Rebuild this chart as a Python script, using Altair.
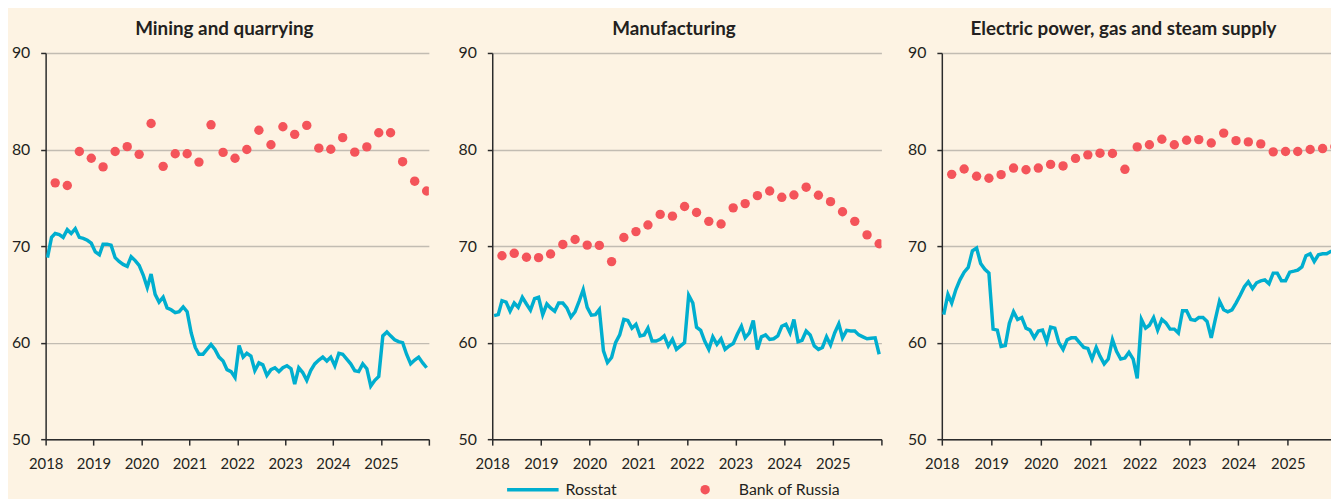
import altair as alt
import pandas as pd

BG = "#FDF3E3"
CYAN = "#00AECF"
RED = "#F4545A"
FONT = "Lato"

titles = ["Mining and quarrying", "Manufacturing", "Electric power, gas and steam supply"]

mining_rosstat = [
    68.8, 70.9, 71.3, 71.2, 70.9, 71.7, 71.3, 71.8, 70.9, 70.8, 70.6, 70.3,
    69.4, 69.1, 70.2, 70.2, 70.1, 68.8, 68.4, 68.1, 67.9, 68.9, 68.5, 68.0,
    67.0, 65.7, 67.1, 65.0, 64.2, 64.7, 63.6, 63.4, 63.1, 63.2, 63.7, 63.2,
    61.0, 59.5, 58.8, 58.8, 59.3, 59.8, 59.3, 58.5, 58.1, 57.2, 57.0, 56.4,
    59.7, 58.5, 58.9, 58.6, 57.1, 57.9, 57.7, 56.6, 57.2, 57.4, 57.0, 57.4,
    57.6, 57.3, 55.7, 57.4, 56.9, 56.1, 57.1, 57.8, 58.2, 58.5, 58.1, 58.5,
    57.6, 58.9, 58.8, 58.3, 57.8, 57.1, 57.0, 57.8, 57.3, 55.5, 56.1, 56.5,
    60.7, 61.1, 60.7, 60.3, 60.1, 60.0, 58.8, 57.8, 58.2, 58.5, 57.9, 57.4,
]
manuf_rosstat = [
    62.8, 62.9, 64.35, 64.2, 63.25, 64.1, 63.66, 64.7, 64.0, 63.36, 64.55, 64.7,
    62.9, 64.0, 63.6, 63.25, 64.1, 64.1, 63.6, 62.64, 63.2, 64.28, 65.48, 63.66,
    62.84, 62.9, 63.42, 59.14, 57.94, 58.46, 60.0, 60.8, 62.4, 62.3, 61.5, 61.9,
    60.7, 60.8, 61.5, 60.17, 60.17, 60.34, 60.7, 59.66, 60.34, 59.3, 59.66, 60.0,
    64.9, 64.1, 61.6, 61.27, 60.17, 59.3, 60.6, 59.83, 60.4, 59.3, 59.66, 59.9,
    60.86, 61.7, 60.5, 61.0, 62.3, 59.3, 60.6, 60.8, 60.34, 60.4, 60.7, 61.7,
    61.9, 61.0, 62.4, 60.1, 60.24, 61.2, 60.8, 59.66, 59.3, 59.5, 60.6, 59.76,
    61.0, 61.95, 60.5, 61.27, 61.2, 61.2, 60.8, 60.6, 60.4, 60.45, 60.5, 58.8,
]
power_rosstat = [
    62.9, 65.0, 64.1, 65.5, 66.5, 67.3, 67.8, 69.5, 69.8, 68.2, 67.6, 67.2,
    61.4, 61.3, 59.6, 59.7, 62.0, 63.2, 62.4, 62.6, 61.5, 61.3, 60.5, 61.2,
    61.3, 60.1, 61.6, 61.5, 60.0, 59.3, 60.3, 60.5, 60.5, 60.0, 59.5, 59.4,
    58.3, 59.5, 58.6, 57.8, 58.3, 60.3, 59.1, 58.3, 58.4, 59.0, 58.3, 56.3,
    62.4, 61.5, 61.8, 62.6, 61.3, 62.4, 62.05, 61.4, 61.4, 61.0, 63.3, 63.3,
    62.4, 62.3, 62.6, 62.6, 62.2, 60.5, 62.4, 64.3, 63.4, 63.2, 63.4, 64.1,
    64.9, 65.8, 66.3, 65.6, 66.2, 66.4, 66.5, 66.1, 67.2, 67.2, 66.4, 66.4,
    67.3, 67.4, 67.5, 67.85, 69.0, 69.2, 68.4, 69.1, 69.2, 69.2, 69.45, 69.5,
]

mining_cbr = [
    76.55, 76.27, 79.8, 79.1, 78.2, 79.8, 80.3, 79.5, 82.7, 78.26, 79.56, 79.56,
    78.7, 82.56, 79.7, 79.1, 80.0, 82.0, 80.5, 82.36, 81.57, 82.5, 80.14, 80.03,
    81.23, 79.73, 80.27, 81.74, 81.74, 78.74, 76.72, 75.7,
]
manuf_cbr = [
    69.0, 69.25, 68.84, 68.8, 69.18, 70.17, 70.68, 70.1, 70.07, 68.39, 70.89, 71.5,
    72.18, 73.28, 73.1, 74.1, 73.48, 72.56, 72.29, 73.96, 74.4, 75.22, 75.7, 75.05,
    75.29, 76.1, 75.26, 74.6, 73.55, 72.56, 71.16, 70.24,
]
power_cbr = [
    77.43, 77.98, 77.23, 77.02, 77.4, 78.08, 77.9, 78.08, 78.46, 78.3, 79.08, 79.45,
    79.62, 79.59, 77.95, 80.27, 80.5, 81.06, 80.5, 80.96, 81.03, 80.68, 81.7, 80.92,
    80.79, 80.58, 79.76, 79.8, 79.8, 80.0, 80.1, 80.3,
]

year_ticks = [2018, 2019, 2020, 2021, 2022, 2023, 2024, 2025, 2026]
y_ticks = [50, 60, 70, 80, 90]

month_dates = (pd.date_range("2018-01-01", periods=96, freq="MS") + pd.Timedelta(days=14)).strftime("%Y-%m-%dT00:00:00")
quarter_dates = (pd.date_range("2018-03-01", periods=32, freq="3MS") + pd.Timedelta(days=14)).strftime("%Y-%m-%dT00:00:00")

stroke_legend = alt.Legend(
    title=None, orient="none", legendX=482, legendY=431, padding=0,
    symbolType="M -3.25 0 L 3.25 0", symbolSize=256, symbolStrokeWidth=3.5,
    labelFontSize=16, labelFont=FONT, labelColor="#231f20", labelOffset=23,
)
fill_legend = alt.Legend(
    title=None, orient="none", legendX=658, legendY=433, padding=0,
    symbolType="circle", symbolSize=90, symbolStrokeWidth=0,
    labelFontSize=16, labelFont=FONT, labelColor="#231f20", labelOffset=26,
)


def panel(title, rosstat, cbr, width, end, ticks, yext):
    line_df = pd.DataFrame({"date": month_dates[: len(rosstat)], "value": rosstat, "series": "Rosstat"})
    pts_df = pd.DataFrame({"date": quarter_dates[: len(cbr)], "value": cbr, "series": "Bank of Russia"})
    x = alt.X(
        "date:T",
        title=None,
        scale=alt.Scale(domain=[alt.DateTime(year=2018, month=1, date=1), end]),
        axis=alt.Axis(
            values=[alt.DateTime(year=t, month=1, date=1) for t in ticks],
            format="%Y",
            labelExpr="datum.label == '2026' ? '' : datum.label",
            labelOverlap=False, labelFlush=False,
            grid=False, tickSize=6, labelPadding=12, labelFontSize=15,
        ),
    )
    y = alt.Y(
        "value:Q",
        title=None,
        scale=alt.Scale(domain=[50, 90], nice=False, zero=False),
        axis=alt.Axis(values=y_ticks, grid=True, tickSize=5, labelPadding=11,
                      labelFontSize=16, minExtent=yext, maxExtent=yext),
    )
    line = alt.Chart(line_df).mark_line(strokeWidth=3.5, clip=True).encode(
        x=x, y=y,
        stroke=alt.Stroke("series:N", scale=alt.Scale(domain=["Rosstat"], range=[CYAN]), legend=stroke_legend),
    )
    pts = alt.Chart(pts_df).mark_circle(size=90, opacity=1, clip=True).encode(
        x=x, y=y,
        fill=alt.Fill("series:N", scale=alt.Scale(domain=["Bank of Russia"], range=[RED]), legend=fill_legend),
    )
    return alt.layer(line, pts).properties(
        width=width, height=390,
        title=alt.TitleParams(title, fontSize=19, font=FONT, fontWeight="bold", color="#231f20",
                              anchor="middle", frame="group", dx=-13, offset=6),
    )


p1 = panel(titles[0], mining_rosstat, mining_cbr, 387, alt.DateTime(year=2026, month=1, date=1), year_ticks, 38)
p2 = panel(titles[1], manuf_rosstat, manuf_cbr, 393, alt.DateTime(year=2026, month=1, date=1), year_ticks, 38)
p3 = panel(titles[2], power_rosstat, power_cbr, 393, alt.DateTime(year=2025, month=11, date=16), year_ticks[:-1], 34)

chart = (
    alt.hconcat(p1, p2, p3, spacing=25)
    .properties(padding={"left": 0, "top": 10, "right": 0, "bottom": 0}, background=BG)
    .configure_view(stroke=None)
    .configure_axis(
        labelFont=FONT, labelColor="#231f20", domainColor="#2b2b2b", domainWidth=1.5,
        tickColor="#2b2b2b", tickWidth=1.5, gridColor="#c2bcb2", gridWidth=1.5,
    )
)

chart.save("out.html", embed_options={"renderer": "svg", "actions": False})
